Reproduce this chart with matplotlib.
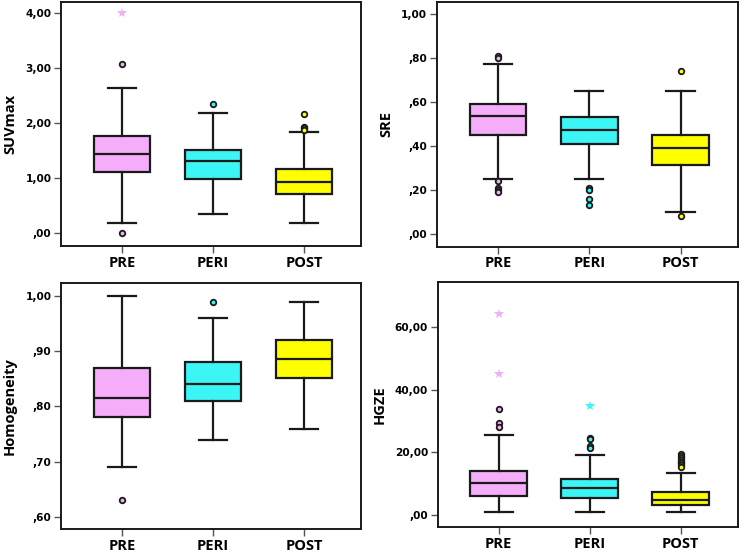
import matplotlib
matplotlib.use('Agg')
import matplotlib.pyplot as plt

groups = ['PRE', 'PERI', 'POST']
colors = ['#F5ADF9', '#3CF5F5', '#FFFF00']

############# values #############################################
# SUVmax
suv_lo = [0.18, 0.35, 0.18]
suv_q1 = [1.11, 0.99, 0.71]
suv_med = [1.44, 1.31, 0.94]
suv_q3 = [1.76, 1.52, 1.16]
suv_hi = [2.65, 2.19, 1.84]
suv_out = [[3.08, 0.01], [2.35], [2.17, 1.94, 1.91, 1.88]]
suv_ext = [[4.00], [], []]

# SRE
sre_lo = [0.25, 0.25, 0.10]
sre_q1 = [0.449, 0.41, 0.311]
sre_med = [0.536, 0.47, 0.39]
sre_q3 = [0.589, 0.53, 0.45]
sre_hi = [0.77, 0.65, 0.65]
sre_out = [[0.81, 0.80, 0.24, 0.21, 0.20, 0.19], [0.21, 0.20, 0.16, 0.13], [0.74, 0.08]]
sre_ext = [[], [], []]

# Homogeneity
hom_lo = [0.69, 0.74, 0.76]
hom_q1 = [0.78, 0.81, 0.851]
hom_med = [0.815, 0.84, 0.886]
hom_q3 = [0.87, 0.88, 0.921]
hom_hi = [1.00, 0.96, 0.99]
hom_out = [[0.63], [0.99], []]
hom_ext = [[], [], []]

# HGZE
hg_lo = [0.85, 0.85, 0.85]
hg_q1 = [6.1, 5.45, 3.0]
hg_med = [10.0, 8.65, 4.7]
hg_q3 = [14.0, 11.3, 7.26]
hg_hi = [25.5, 19.0, 13.45]
hg_out = [[33.9, 29.2, 28.1], [24.6, 24.1, 22.0, 21.5],
          [19.4, 18.8, 18.2, 17.6, 17.0, 16.4, 15.8, 15.2]]
hg_ext = [[64.2, 45.1], [34.8], []]

panels = [
    ('SUVmax', suv_lo, suv_q1, suv_med, suv_q3, suv_hi, suv_out, suv_ext,
     [0, 1, 2, 3, 4], [',00', '1,00', '2,00', '3,00', '4,00'], (-0.23, 4.21),
     [0.082, 0.556, 0.403, 0.441]),
    ('SRE', sre_lo, sre_q1, sre_med, sre_q3, sre_hi, sre_out, sre_ext,
     [0, 0.2, 0.4, 0.6, 0.8, 1.0], [',00', ',20', ',40', ',60', ',80', '1,00'], (-0.059, 1.055),
     [0.5866, 0.5547, 0.404, 0.442]),
    ('Homogeneity', hom_lo, hom_q1, hom_med, hom_q3, hom_hi, hom_out, hom_ext,
     [0.6, 0.7, 0.8, 0.9, 1.0], [',60', ',70', ',80', ',90', '1,00'], (0.578, 1.0235),
     [0.082, 0.0451, 0.403, 0.444]),
    ('HGZE', hg_lo, hg_q1, hg_med, hg_q3, hg_hi, hg_out, hg_ext,
     [0, 20, 40, 60], [',00', '20,00', '40,00', '60,00'], (-3.95, 74.5),
     [0.5875, 0.0487, 0.403, 0.4423]),
]

fig = plt.figure(figsize=(7.45, 5.54), dpi=100)

for (label, lo, q1, med, q3, hi, out, ext, ticks, ticklabels, ylim, rect) in panels:
    ax = fig.add_axes(rect)
    stats = []
    for i in range(3):
        stats.append({'whislo': lo[i], 'q1': q1[i], 'med': med[i], 'q3': q3[i],
                      'whishi': hi[i], 'fliers': out[i]})
    bp = ax.bxp(stats, positions=[0, 1, 2], widths=0.62, patch_artist=True,
                capwidths=0.31,
                boxprops=dict(linewidth=1.6, edgecolor='#1a1a1a'),
                medianprops=dict(linewidth=1.6, color='#1a1a1a'),
                whiskerprops=dict(linewidth=1.6, color='#1a1a1a'),
                capprops=dict(linewidth=1.6, color='#1a1a1a'),
                flierprops=dict(marker='o', markersize=4, markeredgewidth=1.3,
                                markeredgecolor='#1a1a1a'))
    for i in range(3):
        bp['boxes'][i].set_facecolor(colors[i])
        bp['fliers'][i].set_markerfacecolor(colors[i])
        if ext[i]:
            ax.plot([i] * len(ext[i]), ext[i], linestyle='none', marker='*',
                    markersize=7, color=colors[i], markeredgewidth=0)
    ax.set_xlim(-0.67, 2.63)
    ax.set_ylim(ylim)
    ax.set_yticks(ticks)
    ax.set_yticklabels(ticklabels, fontsize=7.6, fontweight='bold', family='DejaVu Sans')
    ax.set_xticks([0, 1, 2])
    ax.set_xticklabels(groups, fontsize=10.5, fontweight='bold', family='Open Sans')
    ax.set_ylabel(label, fontsize=10.5, fontweight='bold', family='Open Sans', labelpad=6)
    ax.tick_params(axis='both', direction='out', length=5, width=1, color='#555555', pad=2)
    for sp in ax.spines.values():
        sp.set_linewidth(1.4)
        sp.set_color('#1a1a1a')

fig.savefig('out.png', dpi=100)
